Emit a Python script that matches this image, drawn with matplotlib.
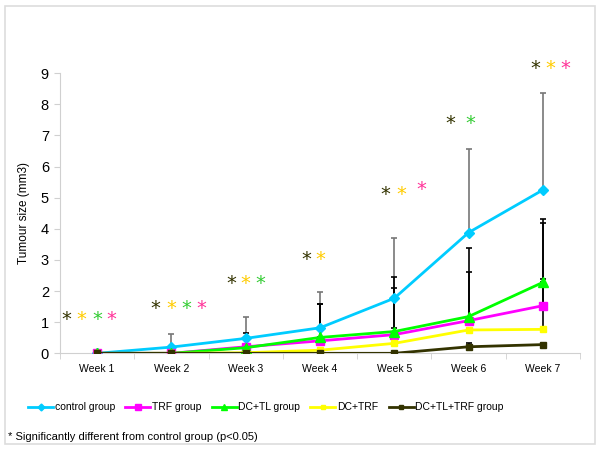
import matplotlib
matplotlib.use("Agg")
import matplotlib.pyplot as plt
from matplotlib.patches import Rectangle

plt.rcParams['font.family'] = ['Liberation Sans', 'DejaVu Sans']

weeks = ["Week 1", "Week 2", "Week 3", "Week 4", "Week 5", "Week 6", "Week 7"]

# mean tumour size per group
control = [0, 0.20, 0.48, 0.82, 1.77, 3.88, 5.25]
trf = [0, 0, 0.21, 0.40, 0.60, 1.05, 1.53]
dc_tl = [0, 0, 0.18, 0.51, 0.70, 1.18, 2.28]
dc_trf = [0, 0, 0.02, 0.10, 0.32, 0.75, 0.77]
dc_tl_trf = [0, 0, 0, 0, 0, 0.21, 0.28]

# upper error (top of bar minus mean)
control_err = [0, 0.42, 0.70, 1.15, 1.95, 2.69, 3.11]
trf_err = [0, 0, 0, 1.18, 1.51, 1.56, 2.65]
dc_tl_err = [0, 0, 0.46, 1.09, 1.75, 2.21, 2.03]
dc_trf_err = [0, 0, 0, 0, 0.48, 0, 1.61]
dc_tl_trf_err = [0, 0, 0, 0, 0, 0.11, 0]

# significance stars: (x position in week units, y value, colour key)
star_x = [-0.42, -0.21, 0.0, 0.19,
          0.78, 1.0, 1.2, 1.4,
          1.8, 2.0, 2.2,
          2.81, 3.01,
          3.88, 4.09, 4.36,
          4.75, 5.02,
          5.9, 6.1, 6.3]
star_y = [1.09, 1.09, 1.09, 1.09,
          1.45, 1.45, 1.45, 1.45,
          2.23, 2.23, 2.23,
          3.02, 3.02,
          5.11, 5.11, 5.25,
          7.37, 7.37,
          9.16, 9.16, 9.16]
star_c = ["k", "y", "g", "p",
          "k", "y", "g", "p",
          "k", "y", "g",
          "k", "y",
          "k", "y", "p",
          "k", "g",
          "k", "y", "p"]
star_colors = {"k": "#333300", "y": "#FFCC00", "g": "#33CC33", "p": "#FF3399"}

fig = plt.figure(figsize=(6, 4.51), dpi=100)
ax = fig.add_axes([0.1, 0.2166, 0.8667, 0.621])

x = list(range(len(weeks)))

series = [
    ("control group", control, control_err, "#00CCFF", "D", 5, "#777777"),
    ("TRF group", trf, trf_err, "#FF00FF", "s", 6, "black"),
    ("DC+TL group", dc_tl, dc_tl_err, "#00FF00", "^", 7, "black"),
    ("DC+TRF", dc_trf, dc_trf_err, "#FFFF00", "s", 5, "black"),
    ("DC+TL+TRF group", dc_tl_trf, dc_tl_trf_err, "#333300", "s", 5, "black"),
]

# error bars first (upper only)
for label, y, err, col, mk, ms, ecol in series:
    ax.errorbar(x, y, yerr=[[0] * len(err), err], fmt="none", ecolor=ecol,
                elinewidth=1.2, capsize=2.5, capthick=1.2, zorder=2)

lines = []
for label, y, err, col, mk, ms, ecol in series:
    ln, = ax.plot(x, y, color=col, lw=2.0, marker=mk, markersize=ms,
                  label=label, zorder=3)
    lines.append(ln)

for sx, sy, sc in zip(star_x, star_y, star_c):
    ax.text(sx, sy, "*", color=star_colors[sc], fontsize=14, ha="center",
            va="center", family="DejaVu Sans")

ax.set_xlim(-0.5, 6.5)
ax.set_ylim(0, 9)
ax.set_yticks(range(10))
ax.set_xticks(x)
ax.set_xticklabels(weeks, fontsize=7.5)
ax.tick_params(axis="y", labelsize=10.5, length=4, color="#D0D0D0", pad=4)
ax.tick_params(axis="x", length=0, pad=8)
ax.set_xticks([i + 0.5 for i in range(-1, 7)], minor=True)
ax.tick_params(axis="x", which="minor", length=4, color="#D0D0D0")
for side in ["top", "right"]:
    ax.spines[side].set_visible(False)
for side in ["left", "bottom"]:
    ax.spines[side].set_color("#D0D0D0")
ax.set_ylabel("Tumour size (mm3)", fontsize=8.5, labelpad=8)

fig.legend(handles=lines, loc="center left", bbox_to_anchor=(28 / 600, 0.097),
           ncol=5, frameon=False, fontsize=7.5, handlelength=2.4,
           columnspacing=1.0, handletextpad=0.15, markerscale=0.7,
           borderpad=0, borderaxespad=0)

fig.text(0.013, 0.031, "* Significantly different from control group (p<0.05)",
         fontsize=8, va="center")

# light frame around the whole figure
fig.patches.append(Rectangle((5 / 600, 1 - 444 / 451), 590 / 600, 438 / 451,
                             transform=fig.transFigure, fill=False,
                             edgecolor="#DDDDDD", lw=1.2))

fig.savefig("out.png", dpi=100)
